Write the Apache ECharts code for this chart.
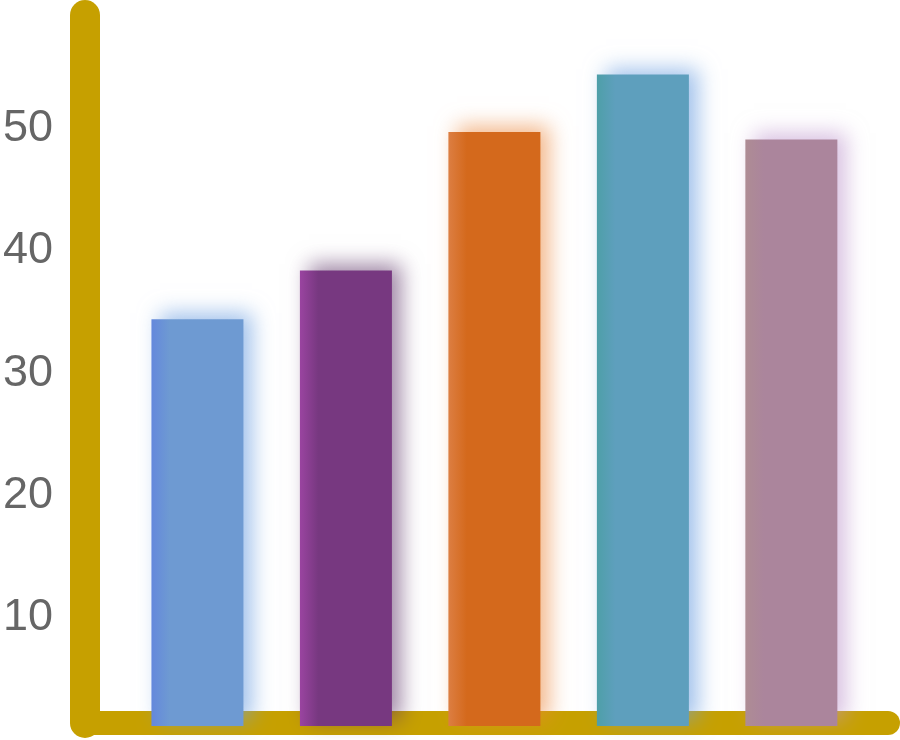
<!DOCTYPE html>
<html lang="en">

<head>
    <meta charset="UTF-8">
    <meta name="viewport" content="width=device-width, initial-scale=1.0">
    <script src="https://cdn.jsdelivr.net/npm/echarts@6/dist/echarts.min.js"></script>
    <title>Bars</title>
    <style>
        html,
        body {
            margin: 0;
            padding: 0;
            background: #fff;
        }

        #myEchart {
            width: 900px;
            height: 740px;
        }
    </style>
</head>

<body>
    <div id="myEchart"></div>
    <script>
        // data
        var categories = ['A', 'B', 'C', 'D', 'E'];
        var values = [34.4, 38.4, 49.7, 54.4, 49.1];
        var tickLabels = [10, 20, 30, 40, 50];

        // bar colours: left edge, body, glow
        var edgeColors = ['#6488dc', '#9a44a0', '#dc7e42', '#4e9fa8', '#ae8c94'];
        var bodyColors = ['#6e9ad2', '#773880', '#d4691c', '#5e9fbd', '#ab859c'];
        var glowColors = [
            'rgba(110,160,225,0.65)',
            'rgba(95,55,105,0.6)',
            'rgba(235,135,60,0.6)',
            'rgba(110,160,225,0.65)',
            'rgba(190,150,205,0.6)'
        ];

        var gold = '#c6a000';

        function drawEchart() {
            var myChart = echarts.init(document.getElementById('myEchart'));

            var barData = values.map(function (v, i) {
                return {
                    value: v,
                    itemStyle: {
                        color: new echarts.graphic.LinearGradient(0, 0, 1, 0, [
                            { offset: 0, color: edgeColors[i] },
                            { offset: 0.2, color: bodyColors[i] },
                            { offset: 1, color: bodyColors[i] }
                        ]),
                        shadowColor: glowColors[i],
                        shadowBlur: 20,
                        shadowOffsetX: 9,
                        shadowOffsetY: -6
                    }
                };
            });

            var option = {
                animation: false,
                grid: [
                    // grid holding the two thick axis lines and the tick labels
                    { left: 83, right: 12, top: 15, bottom: 17 },
                    // grid for the bars, same vertical scale
                    { left: 123.2, right: 34.4, top: 15, bottom: 14 }
                ],
                xAxis: [
                    {
                        type: 'value',
                        gridIndex: 0,
                        min: 0,
                        max: 1,
                        axisLine: {
                            show: true,
                            onZero: false,
                            lineStyle: { color: gold, width: 24, cap: 'round' }
                        },
                        axisTick: { show: false },
                        axisLabel: { show: false },
                        splitLine: { show: false }
                    },
                    {
                        type: 'category',
                        gridIndex: 1,
                        data: categories,
                        show: false
                    }
                ],
                yAxis: [
                    {
                        type: 'value',
                        gridIndex: 0,
                        min: 1.42,
                        max: 59.27,
                        axisLine: {
                            show: true,
                            onZero: false,
                            lineStyle: { color: gold, width: 30, cap: 'round' }
                        },
                        axisTick: { show: false },
                        splitLine: { show: false },
                        axisLabel: {
                            showMinLabel: false,
                            showMaxLabel: false,
                            margin: 32,
                            color: '#666',
                            fontSize: 45,
                            fontFamily: 'Liberation Sans, Arial, sans-serif',
                            formatter: function (v) {
                                return tickLabels.indexOf(Math.round(v)) >= 0 &&
                                    Math.abs(v - Math.round(v)) < 1e-6 ? String(Math.round(v)) : '';
                            }
                        }
                    },
                    {
                        type: 'value',
                        gridIndex: 1,
                        min: 1.175,
                        max: 59.27,
                        show: false,
                        splitLine: { show: false }
                    }
                ],
                series: [
                    {
                        type: 'bar',
                        xAxisIndex: 1,
                        yAxisIndex: 1,
                        barWidth: 92,
                        z: 5,
                        data: barData
                    }
                ]
            };

            myChart.setOption(option);
        }

        drawEchart();
    </script>
</body>

</html>
